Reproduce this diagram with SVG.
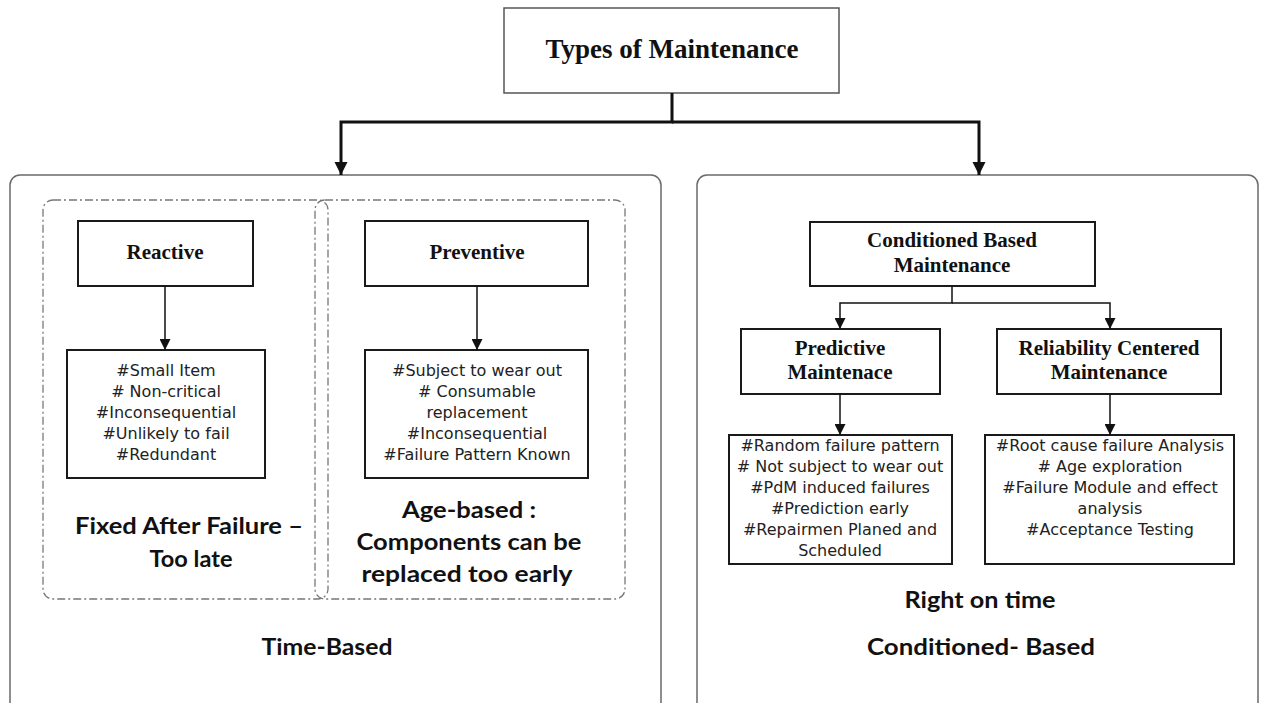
<svg xmlns="http://www.w3.org/2000/svg" width="1264" height="703" viewBox="0 0 1264 703">
<defs>
<marker id="ah" viewBox="0 0 10 10" refX="10" refY="5" markerWidth="12" markerHeight="11" markerUnits="userSpaceOnUse" orient="auto"><path d="M0,0 L10,5 L0,10 z" fill="#111"/></marker>
<marker id="ahb" viewBox="0 0 10 10" refX="10" refY="5" markerWidth="13" markerHeight="15" markerUnits="userSpaceOnUse" orient="auto"><path d="M0,0 L10,5 L0,10 z" fill="#111"/></marker>
</defs>
<style>
.panel{fill:none;stroke:#6a6a6a;stroke-width:1.5}
.dash{fill:none;stroke:#777;stroke-width:1.3;stroke-dasharray:8 3 2 3}
.box{fill:#fff;stroke:#1a1a1a;stroke-width:2}
.top{fill:#fff;stroke:#555;stroke-width:1.5}
.h{font-family:"Liberation Serif","Times New Roman",serif;font-weight:bold;font-size:21px;fill:#111;text-anchor:middle}
.title{font-size:27px}
.l{font-family:"DejaVu Sans",Verdana,sans-serif;font-size:16px;fill:#222;text-anchor:middle}
.c{font-family:Lato,"Liberation Sans",sans-serif;font-weight:bold;font-size:22px;fill:#111;text-anchor:middle}
.ln{fill:none;stroke:#111;stroke-width:1.5}
.lb{fill:none;stroke:#111;stroke-width:3}
</style>
<rect width="1264" height="703" fill="#fff"/>

<g id="panel-time">
<rect class="panel" x="10" y="175" width="651" height="560" rx="10"/>
<text class="c" x="327" y="655" textLength="131" lengthAdjust="spacingAndGlyphs">Time-Based</text>
</g>
<g id="panel-condition">
<rect class="panel" x="697" y="175" width="561" height="560" rx="10"/>
<text class="c" x="980" y="608" textLength="151" lengthAdjust="spacingAndGlyphs">Right on time</text>
<text class="c" x="981" y="655" textLength="228" lengthAdjust="spacingAndGlyphs">Conditioned- Based</text>
</g>

<g id="group-reactive">
<rect class="dash" x="43" y="200" width="285" height="399" rx="10"/>
<text class="c" x="189" y="534" textLength="228" lengthAdjust="spacingAndGlyphs">Fixed After Failure –</text>
<text class="c" x="191" y="567" textLength="83" lengthAdjust="spacingAndGlyphs">Too late</text>
</g>
<g id="group-preventive">
<rect class="dash" x="315" y="200" width="310" height="399" rx="10"/>
<text class="c" x="469" y="518" textLength="134" lengthAdjust="spacingAndGlyphs">Age-based :</text>
<text class="c" x="469" y="550" textLength="225" lengthAdjust="spacingAndGlyphs">Components can be</text>
<text class="c" x="467" y="582" textLength="211" lengthAdjust="spacingAndGlyphs">replaced too early</text>
</g>

<g id="types">
<rect class="top" x="504" y="8" width="335" height="85"/>
<text class="h title" x="672" y="58">Types of Maintenance</text>
</g>

<g id="reactive">
<rect class="box" x="78" y="221" width="175" height="65"/>
<text class="h" x="165" y="259">Reactive</text>
</g>
<g id="reactive-list">
<rect class="box" x="67" y="350" width="198" height="128"/>
<text class="l" x="166" y="376">#Small Item</text>
<text class="l" x="166" y="397"># Non-critical</text>
<text class="l" x="166" y="418">#Inconsequential</text>
<text class="l" x="166" y="439">#Unlikely to fail</text>
<text class="l" x="166" y="460">#Redundant</text>
</g>

<g id="preventive">
<rect class="box" x="365" y="221" width="223" height="65"/>
<text class="h" x="477" y="259">Preventive</text>
</g>
<g id="preventive-list">
<rect class="box" x="365" y="350" width="223" height="128"/>
<text class="l" x="477" y="376">#Subject to wear out</text>
<text class="l" x="477" y="397"># Consumable</text>
<text class="l" x="477" y="418">replacement</text>
<text class="l" x="477" y="439">#Inconsequential</text>
<text class="l" x="477" y="460">#Failure Pattern Known</text>
</g>

<g id="cbm">
<rect class="box" x="810" y="222" width="285" height="64"/>
<text class="h" x="952" y="247">Conditioned Based</text>
<text class="h" x="952" y="272">Maintenance</text>
</g>
<g id="predictive">
<rect class="box" x="741" y="329" width="199" height="65"/>
<text class="h" x="840" y="355">Predictive</text>
<text class="h" x="840" y="379">Maintenace</text>
</g>
<g id="rcm">
<rect class="box" x="997" y="329" width="224" height="65"/>
<text class="h" x="1109" y="355">Reliability Centered</text>
<text class="h" x="1109" y="379">Maintenance</text>
</g>
<g id="predictive-list">
<rect class="box" x="729" y="435" width="223" height="129"/>
<text class="l" x="840" y="451">#Random failure pattern</text>
<text class="l" x="840" y="472"># Not subject to wear out</text>
<text class="l" x="840" y="493">#PdM induced failures</text>
<text class="l" x="840" y="514">#Prediction early</text>
<text class="l" x="840" y="535">#Repairmen Planed and</text>
<text class="l" x="840" y="556">Scheduled</text>
</g>
<g id="rcm-list">
<rect class="box" x="985" y="435" width="249" height="129"/>
<text class="l" x="1110" y="451">#Root cause failure Analysis</text>
<text class="l" x="1110" y="472"># Age exploration</text>
<text class="l" x="1110" y="493">#Failure Module and effect</text>
<text class="l" x="1110" y="514">analysis</text>
<text class="l" x="1110" y="535">#Acceptance Testing</text>
</g>

<g id="connectors">
<path class="lb" d="M672,93 V122 H341 V175" marker-end="url(#ahb)"/>
<path class="lb" d="M672,122 H979 V175" marker-end="url(#ahb)"/>
<path class="ln" d="M165,286 V350" marker-end="url(#ah)"/>
<path class="ln" d="M477,286 V350" marker-end="url(#ah)"/>
<path class="ln" d="M952,286 V303 H840 V329" marker-end="url(#ah)"/>
<path class="ln" d="M952,303 H1110 V329" marker-end="url(#ah)"/>
<path class="ln" d="M840,394 V435" marker-end="url(#ah)"/>
<path class="ln" d="M1110,394 V435" marker-end="url(#ah)"/>
</g>
</svg>
